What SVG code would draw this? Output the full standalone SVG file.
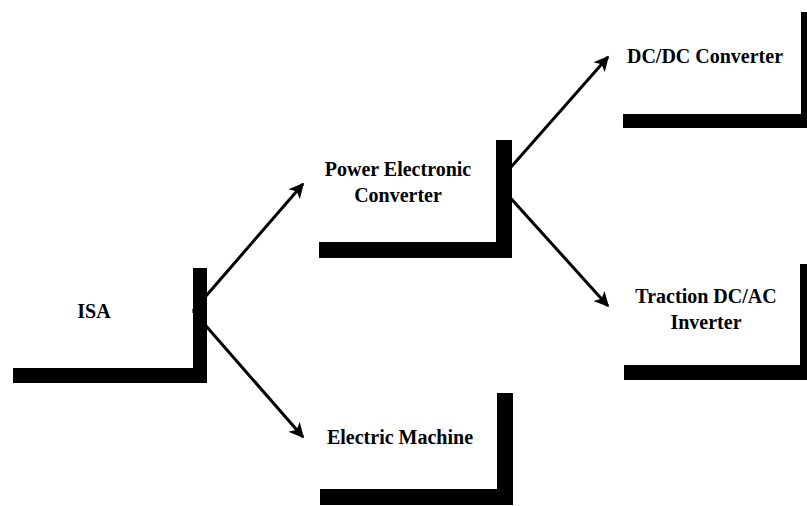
<svg xmlns="http://www.w3.org/2000/svg" width="807" height="506" viewBox="0 0 807 506">
  <style>
    .bar { fill: #000; }
    .lbl { font-family: "Liberation Serif", "Times New Roman", serif; font-weight: bold; font-size: 20px; fill: #000; text-anchor: middle; }
    .wire { stroke: #000; stroke-width: 3; fill: none; marker-end: url(#head); }
  </style>
  <defs>
    <marker id="head" viewBox="0 0 10 10" refX="9" refY="5" markerWidth="5.5" markerHeight="5" orient="auto" markerUnits="strokeWidth">
      <path d="M0,0 L10,5 L0,10 L2.5,5 Z" fill="#000"/>
    </marker>
  </defs>
  <rect width="807" height="506" fill="#fff"/>

  <g id="connectors">
    <line class="wire" x1="193" y1="311" x2="303" y2="184"/>
    <line class="wire" x1="193" y1="311" x2="303" y2="437"/>
    <line class="wire" x1="497" y1="183" x2="608" y2="57"/>
    <line class="wire" x1="497" y1="183" x2="608" y2="306"/>
  </g>

  <g id="isa">
    <rect class="bar" x="13" y="368" width="194" height="15"/>
    <rect class="bar" x="193" y="268" width="14" height="115"/>
    <text class="lbl" x="94" y="318">ISA</text>
  </g>

  <g id="power-electronic-converter">
    <rect class="bar" x="319" y="242" width="193" height="16"/>
    <rect class="bar" x="496" y="140" width="16" height="118"/>
    <text class="lbl" x="398" y="176">Power Electronic</text>
    <text class="lbl" x="398" y="202">Converter</text>
  </g>

  <g id="electric-machine">
    <rect class="bar" x="320" y="489" width="193" height="16"/>
    <rect class="bar" x="497" y="393" width="16" height="112"/>
    <text class="lbl" x="400" y="444">Electric Machine</text>
  </g>

  <g id="dcdc-converter">
    <rect class="bar" x="623" y="114" width="184" height="14"/>
    <rect class="bar" x="801" y="12" width="6" height="116"/>
    <text class="lbl" x="705" y="63">DC/DC Converter</text>
  </g>

  <g id="traction-inverter">
    <rect class="bar" x="624" y="365" width="183" height="15"/>
    <rect class="bar" x="800" y="264" width="7" height="116"/>
    <text class="lbl" x="706" y="303">Traction DC/AC</text>
    <text class="lbl" x="706" y="329">Inverter</text>
  </g>
</svg>
